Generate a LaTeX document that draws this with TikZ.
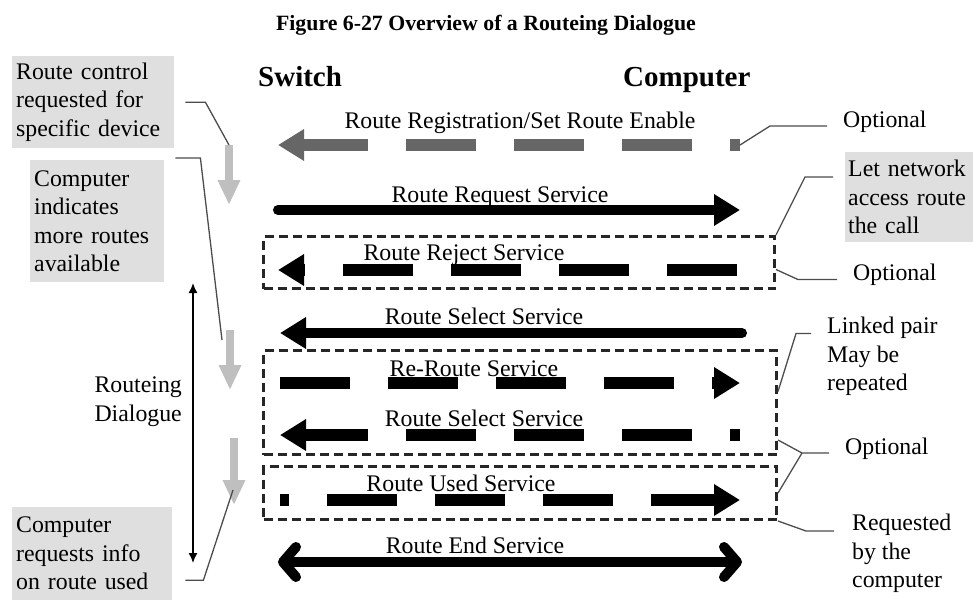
\documentclass[tikz,border=0pt]{standalone}
\usepackage{fontspec}
\setmainfont{Liberation Serif}
\usepackage{tikz}
\usetikzlibrary{arrows.meta,positioning,calc}

\begin{document}
\begin{tikzpicture}[
    x=1pt, y=-1pt,
    txt/.style={font=\fontsize{23.8}{28.5}\selectfont, inner sep=2pt},
    head/.style={font=\fontsize{29}{34}\selectfont\bfseries, inner sep=0pt},
    greybox/.style={txt, fill=gray!25, align=left, inner xsep=4pt, anchor=north west},
    optbox/.style={draw=black!85, line width=3pt, dash pattern=on 9pt off 5pt, anchor=north west, inner sep=0pt},
    note/.style={draw=black!70, line width=1.3pt},
    msg/.style={line width=10pt, >={Triangle[length=26pt,width=30pt]}, ->},
    dmsg/.style={msg, line width=12pt, dash pattern=on 70pt off 38pt, dash phase=#1},
    dmsg/.default=0pt,
    endmsg/.style={line width=10pt, >={Straight Barb[length=13pt,width=30pt,round]}, <->},
    flow/.style={draw=gray!50, line width=8pt, -{Triangle[length=25pt,width=21pt]}},
    span/.style={line width=1.5pt, {Latex[length=10pt,width=9pt]}-{Latex[length=10pt,width=9pt]}}
]
    \useasboundingbox (0,0) rectangle (973,600);

    % Title and headings
    \node[font=\fontsize{21.8}{26}\selectfont\bfseries, anchor=base] (title) at (486,30) {Figure 6-27 Overview of a Routeing Dialogue};
    \node[head, anchor=base west] (sw) at (258,86) {Switch};
    \node[head, anchor=base west] (cp) at (623,86) {Computer};

    % Optional groups
    \node[optbox, minimum width=511pt, minimum height=52pt] (optA) at (262,235) {};
    \node[optbox, minimum width=513pt, minimum height=104pt] (optB) at (262,349) {};
    \node[optbox, minimum width=513pt, minimum height=53pt] (optC) at (262,465) {};

    % Message ends, switch side and computer side
    \coordinate (swReg) at (278,145); \coordinate (cpReg) at (740,145);
    \coordinate (swReq) at (278,210); \coordinate (cpReq) at (740,210);
    \coordinate (swRej) at (278,270); \coordinate (cpRej) at (737,270);
    \coordinate (swSel) at (280,333); \coordinate (cpSel) at (742,333);
    \coordinate (swRer) at (280,383); \coordinate (cpRer) at (740,383);
    \coordinate (swSel2) at (280,435); \coordinate (cpSel2) at (740,435);
    \coordinate (swUse) at (280,500); \coordinate (cpUse) at (740,500);
    \coordinate (swEnd) at (278,562); \coordinate (cpEnd) at (742,562);

    % Messages
    \draw[dmsg=60pt, black!60] (cpReg) -- (swReg);
    \draw[msg, line cap=round] (swReq) -- (cpReq);
    \draw[dmsg] (cpRej) -- (swRej);
    \draw[msg, line cap=round] (cpSel) -- (swSel);
    \draw[dmsg] (swRer) -- (cpRer);
    \draw[dmsg=60pt] (cpSel2) -- (swSel2);
    \draw[dmsg=61pt] (swUse) -- (cpUse);
    \draw[endmsg] (swEnd) -- (cpEnd);

    % Message labels
    \node[txt, anchor=base] (lReg) at (520,128) {Route Registration/Set Route Enable};
    \node[txt, anchor=base] (lReq) at (500,202) {Route Request Service};
    \node[txt, anchor=base] (lRej) at (464,260) {Route Reject Service};
    \node[txt, anchor=base] (lSel) at (484,324) {Route Select Service};
    \node[txt, anchor=base] (lRer) at (474,376) {Re-Route Service};
    \node[txt, anchor=base] (lSel2) at (484,426) {Route Select Service};
    \node[txt, anchor=base] (lUse) at (461,491) {Route Used Service};
    \node[txt, anchor=base] (lEnd) at (475,553) {Route End Service};

    % Left side notes
    \node[greybox, text width=154pt, minimum height=92pt] (rc) at (12,56) {Route control\\requested for\\specific device};
    \node[greybox, text width=126pt, minimum height=122pt] (cm) at (30,160) {Computer\\indicates\\more routes\\available};
    \node[greybox, text width=152pt, minimum height=93pt] (rq) at (12,507) {Computer\\requests info\\on route used};
    \node[txt, align=right, anchor=north east] (dlg) at (184,375) {Routeing\\Dialogue};

    \coordinate (dlgTop) at (193,283);
    \coordinate (dlgBot) at (193,563);
    \draw[span] (dlgTop) -- (dlgBot);

    % Grey flow arrows
    \coordinate (g1a) at (229,145); \coordinate (g1b) at (229,205);
    \coordinate (g2a) at (230,330); \coordinate (g2b) at (230,390);
    \coordinate (g3a) at (234,438); \coordinate (g3b) at (234,505);
    \draw[flow] (g1a) -- (g1b);
    \draw[flow] (g2a) -- (g2b);
    \draw[flow] (g3a) -- (g3b);

    \coordinate (k2) at (222,340);
    \coordinate (k3) at (233,490);
    \draw[note] ([xshift=11pt]rc.east) -- ++(20,0) -- (g1a);
    \draw[note] ([shift={(11pt,2pt)}]cm.north east) -- ++(25,0) -- (k2);
    \draw[note] ([shift={(13pt,-26.5pt)}]rq.east) -- ++(18,0) -- (k3);

    % Right side notes
    \node[txt, anchor=base west] (opt1) at (841,127) {Optional};
    \node[greybox, inner xsep=3pt, text width=122pt, minimum height=90pt] (let) at (845,152) {Let network\\access route\\the call};
    \node[txt, anchor=base west] (opt2) at (851,280) {Optional};
    \node[txt, align=left, anchor=north west] (lnk) at (825,315) {Linked pair\\May be\\repeated};
    \node[txt, anchor=base west] (opt3) at (843,454) {Optional};
    \node[txt, align=left, anchor=north west] (req) at (850,512) {Requested\\by the\\computer};

    \coordinate (k4) at (770,126);
    \coordinate (j3) at (802,453);
    \draw[note, shorten >=14pt] (cpReg) -- (k4) -- (k4 -| opt1.west);
    \draw[note, shorten >=12pt] (optA.north east) -- ++(29,-58) coordinate (k5) -- (k5 -| let.west);
    \draw[note, shorten >=14pt] ([yshift=-7pt]optA.east) -- ++(22,10) coordinate (k6) -- (k6 -| opt2.west);
    \draw[note, shorten >=14pt] ([yshift=11pt]optB.east) -- ++(18,-58) coordinate (k7) -- (k7 -| lnk.west);
    \draw[note, shorten >=14pt] ([yshift=16pt]optB.south east) -- (j3) -- (j3 -| opt3.west);
    \draw[note] (optC.east) -- (j3);
    \draw[note, shorten >=16pt] (optC.south east) -- ++(28,10) coordinate (k8) -- (k8 -| req.west);

\end{tikzpicture}
\end{document}
